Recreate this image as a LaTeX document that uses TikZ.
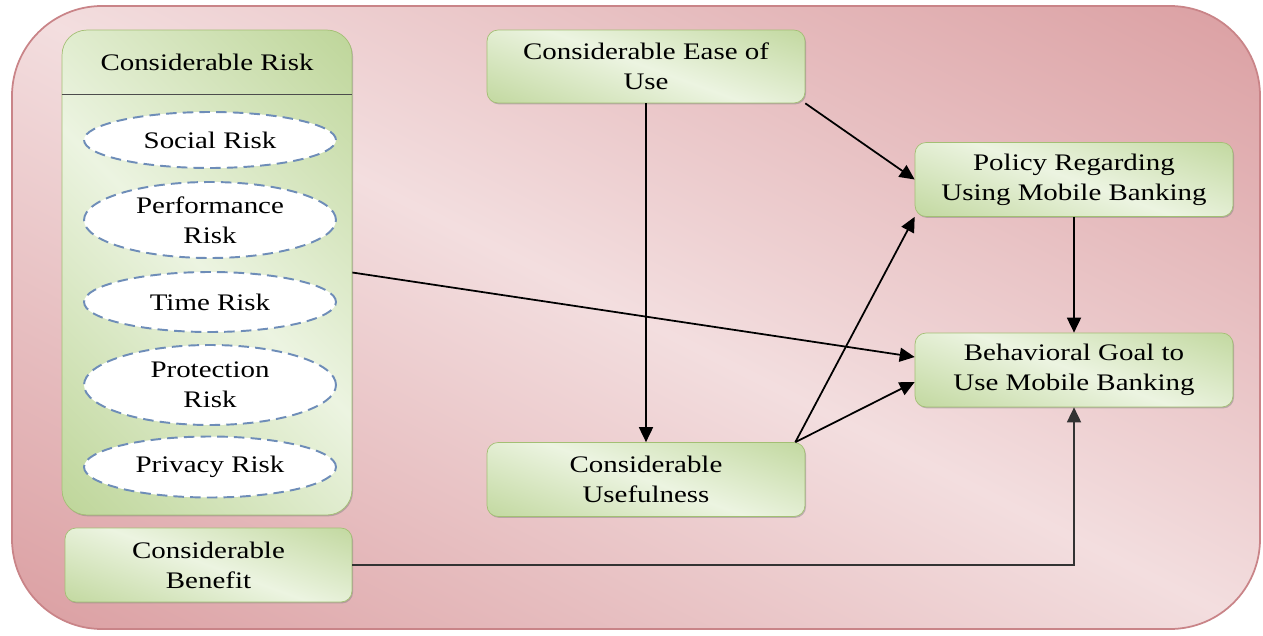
\documentclass[tikz,border=0pt]{standalone}
\usepackage{fontspec}
\setmainfont{Liberation Serif}[FakeStretch=1.22]
\usetikzlibrary{arrows.meta,shadows,shapes.geometric}

\definecolor{pinkdark}{HTML}{CF8084}
\definecolor{pinklight}{HTML}{F3DEDF}
\definecolor{pinkedge}{HTML}{C98488}
\definecolor{greendark}{HTML}{ABC97C}
\definecolor{greenlight}{HTML}{ECF4E1}
\definecolor{greenedge}{HTML}{A3BF74}
\definecolor{ovaledge}{HTML}{6E8DB8}

% band shadings, light in the middle and dark at both ends
\pgfdeclareverticalshading{pinkband}{100bp}{color(0bp)=(pinkdark); color(50bp)=(pinklight); color(100bp)=(pinkdark)}
\pgfdeclareverticalshading{greenband}{100bp}{color(0bp)=(greendark); color(50bp)=(greenlight); color(100bp)=(greendark)}

\tikzset{
    greenbox/.style={draw=greenedge, rounded corners=0.22cm,
        shading=greenband, shading angle=-20,
        drop shadow={shadow xshift=0.6pt, shadow yshift=-0.8pt, opacity=0.45},
        minimum width=6.36cm, minimum height=1.48cm, align=center, inner sep=2pt},
    riskoval/.style={ellipse, draw=ovaledge, dash pattern=on 6pt off 3.5pt,
        line width=1.1pt, fill=white, minimum width=5.04cm, align=center, inner sep=0pt},
    arr/.style={-{Triangle[length=0.3cm,width=0.28cm]}, line width=1pt, black},
}

\begin{document}
\begin{tikzpicture}[x=0.02cm, y=-0.02cm, font=\fontsize{13.5}{17}\selectfont]
    \useasboundingbox (0,0) rectangle (1263,635);

    % Background panel
    \draw[draw=pinkedge, line width=1pt, rounded corners=1.8cm,
        shading=pinkband, shading angle=-26.7] (12,6) rectangle (1260,629);

    % Risk column
    \node[greenbox, minimum width=5.8cm, minimum height=9.7cm, rounded corners=0.5cm,
        shading angle=-45] (risk) at (207,272.5) {};
    \node (risktitle) at (207,62) {Considerable Risk};
    \draw[line width=0.8pt, black!70] ([yshift=-1.3cm]risk.north west) -- ([yshift=-1.3cm]risk.north east);

    \foreach \y/\nm/\txt/\h in {140/social/{Social Risk}/1.12, 220/perf/{Performance\\ Risk}/1.52,
        302/time/{Time Risk}/1.2, 385/prot/{Protection\\ Risk}/1.6, 467/priv/{Privacy Risk}/1.22} {
        \node[riskoval, minimum height=\h cm] (\nm) at (210,\y) {\txt};
    }

    % Other boxes
    \node[greenbox, minimum width=5.74cm] (benefit) at (208.5,565) {Considerable\\ Benefit};
    \node[greenbox, minimum height=1.46cm] (ease) at (646,66.5) {Considerable Ease of\\ Use};
    \node[greenbox] (useful) at (646,479.5) {Considerable\\ Usefulness};
    \node[greenbox] (policy) at (1074,179.5) {Policy Regarding\\ Using Mobile Banking};
    \node[greenbox] (behav) at (1074,370) {Behavioral Goal to\\ Use Mobile Banking};

    % Arrows
    \draw[arr] (ease) -- (useful);
    \draw[arr] (ease.south east) -- (policy.west);
    \draw[arr] (risk.east) -- ([yshift=0.26cm]behav.west);
    \draw[arr] ([xshift=-0.2cm]useful.north east) -- (policy.south west);
    \draw[arr] ([xshift=-0.2cm]useful.north east) -- ([yshift=-0.24cm]behav.west);
    \draw[arr] (policy) -- (behav);
    \draw[arr, black!80] (benefit.east) -| (behav.south);

\end{tikzpicture}
\end{document}
